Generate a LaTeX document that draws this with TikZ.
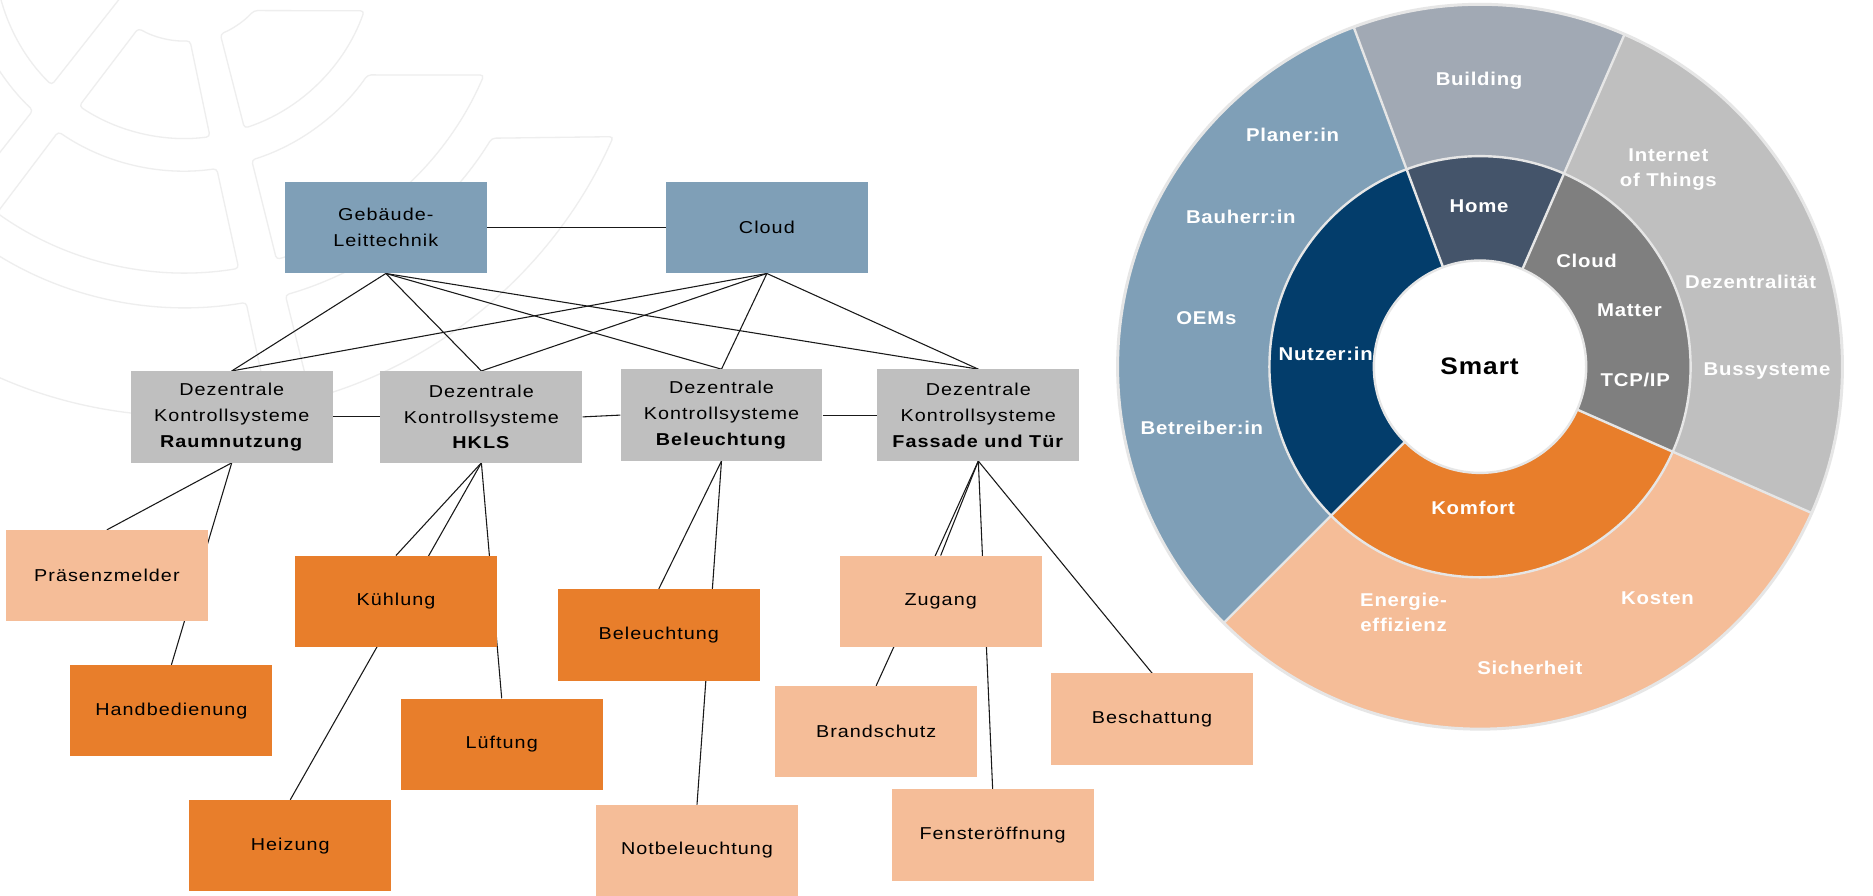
\documentclass[tikz,border=0pt]{standalone}
\usepackage{fontspec}
\setmainfont[FakeStretch=1.15,LetterSpace=6]{Liberation Sans}
\newfontfamily\ringfont[FakeStretch=1.1,LetterSpace=4]{Liberation Sans}
\pgfdeclarelayer{wm}
\pgfdeclarelayer{edges}
\pgfsetlayers{wm,edges,main}
\definecolor{steel}{HTML}{7F9FB7}
\definecolor{bldg}{HTML}{A1A9B4}
\definecolor{iot}{HTML}{BFBFBF}
\definecolor{peach}{HTML}{F5BD98}
\definecolor{navy}{HTML}{033D6B}
\definecolor{homec}{HTML}{44546A}
\definecolor{midgray}{HTML}{7F7F7F}
\definecolor{orangeD}{HTML}{E87E2B}
\definecolor{boxgray}{HTML}{BFBFBF}
\definecolor{wmgray}{HTML}{EEEEEE}
\definecolor{sepgray}{HTML}{E6E6E6}
\newcommand\annsec[5]{\fill[#5] (#1:#3pt) arc[start angle=#1, end angle=#2, radius=#3pt] -- (#2:#4pt) arc[start angle=#2, end angle=#1, radius=#4pt] -- cycle;}
\tikzset{
  box/.style={rectangle, minimum width=169pt, minimum height=76.5pt, inner sep=0pt, align=center, text=black, font=\fontsize{14.4}{21.6}\selectfont},
  bluebox/.style={box, fill=steel},
  graybox/.style={box, fill=boxgray},
  darkbox/.style={box, fill=orangeD},
  lightbox/.style={box, fill=peach},
  edge/.style={line width=0.9pt, draw=black!90},
  wmline/.style={draw=wmgray, line width=1.1pt, rounded corners=3pt},
  lbl/.style={text=white, inner sep=0pt, align=center, font=\ringfont\bfseries\fontsize{15.5}{21.6}\selectfont},
  sepline/.style={draw=sepgray, line width=2pt},
  ringline/.style={draw=sepgray, line width=2.5pt}
}
\begin{document}
\begin{tikzpicture}[x=1pt,y=-1pt]
\useasboundingbox (0,0) rectangle (1568,750);
\begin{pgfonlayer}{wm}
\fill[white] (0,0) rectangle (1568,750);
\begin{scope}
\clip (0,0) rectangle (1568,750);
\begin{scope}[scale=0.27906]
% faint globe watermark
\draw[wmline] (403,-60) -- (155,255) arc[start angle=134.15, end angle=172, radius=570];
\draw[wmline] (415,85) arc[start angle=120.05, end angle=86.95, radius=280] -- (630,410) arc[start angle=82.46, end angle=123.86, radius=570] -- cycle;
\draw[wmline] (660.8,102.2) arc[start angle=67.78, end angle=42.37, radius=280] -- (1092.7,32.5) arc[start angle=19.41, end angle=71.79, radius=570] -- cycle;
\draw[wmline] (-20,183) arc[start angle=149.4, end angle=133.05, radius=668] -- (-60,533);
\draw[wmline] (175,395) arc[start angle=124.54, end angle=81.69, radius=668] -- (716,805) arc[start angle=80.49, end angle=125.34, radius=975] -- cycle;
\draw[wmline] (755,480) arc[start angle=72.57, end angle=34.88, radius=668] -- (1452,225) arc[start angle=23.07, end angle=73.64, radius=975] -- cycle;
\draw[wmline] (-20,757) arc[start angle=122.17, end angle=80.23, radius=1080] -- (806.5,1225) arc[start angle=79.69, end angle=114.16, radius=1405] -- cycle;
\draw[wmline] (856,885) arc[start angle=73.89, end angle=31.68, radius=1080] -- (1840,410) arc[start angle=23.8, end angle=74.35, radius=1405] -- cycle;
\end{scope}
\end{scope}
\end{pgfonlayer}

% top level
\node[bluebox] (glt) at (323,190.5) {Gebäude-\\Leittechnik};
\node[bluebox] (cloud) at (642,190.5) {Cloud};
% decentral control systems
\node[graybox] (raum) at (194,349) {Dezentrale\\Kontrollsysteme\\\textbf{Raumnutzung}};
\node[graybox] (hkls) at (403,349) {Dezentrale\\Kontrollsysteme\\\textbf{HKLS}};
\node[graybox] (bel) at (604,347.5) {Dezentrale\\Kontrollsysteme\\\textbf{Beleuchtung}};
\node[graybox] (fass) at (819,347.5) {Dezentrale\\Kontrollsysteme\\\textbf{Fassade und Tür}};
% leaves
\node[lightbox] (praes) at (89.5,482) {Präsenzmelder};
\node[darkbox] (hand) at (143.5,595) {Handbedienung};
\node[darkbox] (kuehl) at (331.5,503.5) {Kühlung};
\node[darkbox] (lueft) at (420,623) {Lüftung};
\node[darkbox] (heiz) at (243,708) {Heizung};
\node[darkbox] (beleu) at (551.5,531.5) {Beleuchtung};
\node[lightbox] (notb) at (583.5,712) {Notbeleuchtung};
\node[lightbox] (zug) at (787.5,503.5) {Zugang};
\node[lightbox] (brand) at (733.5,612.5) {Brandschutz};
\node[lightbox] (fenst) at (831,699) {Fensteröffnung};
\node[lightbox] (besch) at (964.5,602) {Beschattung};

\begin{pgfonlayer}{edges}
\draw[edge] (glt.east) -- (cloud.west);
\foreach \t in {raum,hkls,bel,fass}{
  \draw[edge] (glt.south) -- (\t.north);
  \draw[edge] (cloud.south) -- (\t.north);
}
\draw[edge] (raum.east) -- (hkls.west);
\draw[edge] (hkls.east) -- (bel.west);
\draw[edge] (bel.east) -- (fass.west);
\draw[edge] (raum.south) -- (praes.north);
\draw[edge] (raum.south) -- (hand.north);
\draw[edge] (hkls.south) -- (kuehl.north);
\draw[edge] (hkls.south) -- (heiz.north);
\draw[edge] (hkls.south) -- (lueft.north);
\draw[edge] (bel.south) -- (beleu.north);
\draw[edge] (bel.south) -- (notb.north);
\draw[edge] (fass.south) -- (zug.north);
\draw[edge] (fass.south) -- (brand.north);
\draw[edge] (fass.south) -- (fenst.north);
\draw[edge] (fass.south) -- (besch.north);
\end{pgfonlayer}

% ring diagram
\begin{scope}[shift={(1239,307)}]
\annsec{110.4}{225}{303.4}{176.3}{steel}
\annsec{66.5}{110.4}{303.4}{176.3}{bldg}
\annsec{-23.8}{66.5}{303.4}{176.3}{iot}
\annsec{225}{336.2}{303.4}{176.3}{peach}
\annsec{110.4}{225}{176.3}{88.9}{navy}
\annsec{66.5}{110.4}{176.3}{88.9}{homec}
\annsec{-23.8}{66.5}{176.3}{88.9}{midgray}
\annsec{225}{336.2}{176.3}{88.9}{orangeD}
\foreach \a in {110.4,66.5,-23.8,225}{
  \draw[sepline] (\a:88.9pt) -- (\a:303.4pt);
}
\draw[ringline] (0pt,0pt) circle[radius=303.4pt];
\draw[sepline] (0pt,0pt) circle[radius=176.3pt];
\filldraw[fill=white, draw=sepgray, line width=2pt] (0pt,0pt) circle[radius=88.9pt];
\end{scope}

\node[lbl] (lbuilding) at (1238.2,67.4) {Building};
\node[lbl] (lplaner) at (1082.1,112.6) {Planer:in};
\node[lbl] (lbauherr) at (1038.8,181.2) {Bauherr:in};
\node[lbl] (loems) at (1009.9,266.5) {OEMs};
\node[lbl] (lbetreiber) at (1006.2,357.9) {Betreiber:in};
\node[lbl] (lhome) at (1238.2,172.3) {Home};
\node[lbl] (lnutzer) at (1109.8,296.6) {Nutzer:in};
\node[inner sep=0pt, text=black, font=\ringfont\bfseries\fontsize{20}{24}\selectfont] (lsmart) at (1238.6,307) {Smart};
\node[lbl] (lcloud) at (1328.2,218) {Cloud};
\node[lbl] (lmatter) at (1364.1,259.7) {Matter};
\node[lbl] (ltcp) at (1369,317.8) {TCP/IP};
\node[lbl] (liot) at (1396.7,141.9) {Internet\\of Things};
\node[lbl] (ldez) at (1465.6,236.1) {Dezentralität};
\node[lbl] (lbus) at (1479.3,310.6) {Bussysteme};
\node[lbl] (lkomfort) at (1233.2,424.8) {Komfort};
\node[lbl] (lenergie) at (1175,512.6) {Energie-\\effizienz};
\node[lbl] (lkosten) at (1387.6,500.6) {Kosten};
\node[lbl] (lsicher) at (1280.7,559.1) {Sicherheit};
\end{tikzpicture}
\end{document}
